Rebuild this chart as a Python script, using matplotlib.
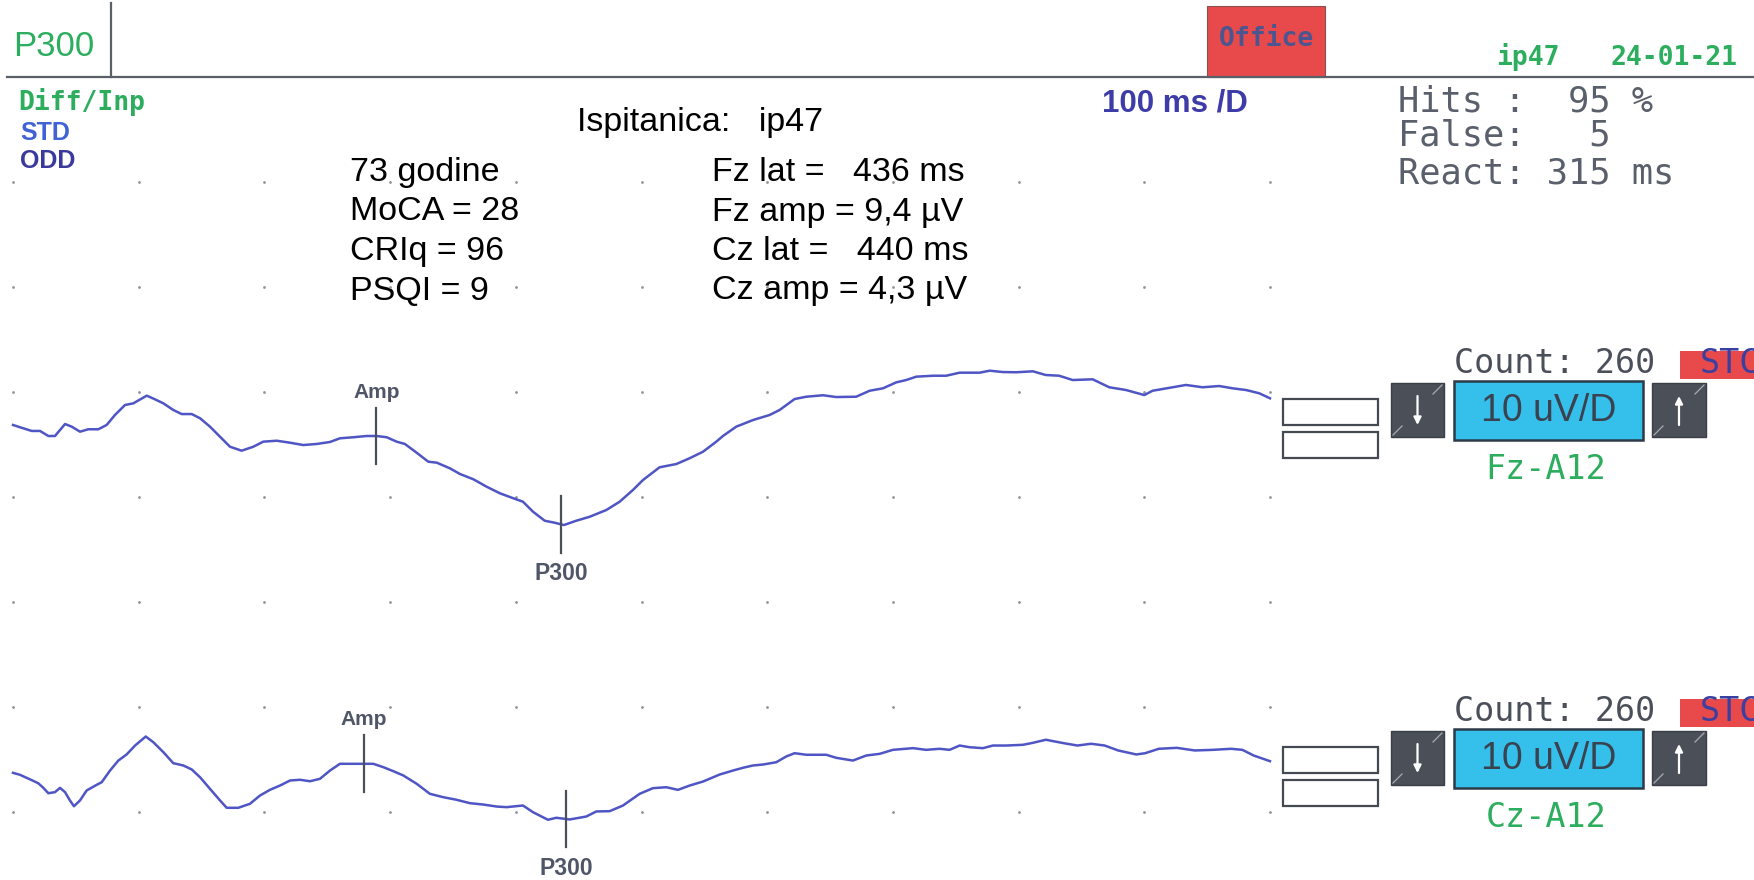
import numpy as np
import matplotlib
matplotlib.use("Agg")
import matplotlib.pyplot as plt
from matplotlib.patches import Rectangle

# ---------------------------------------------------------------------------
# Averaged ERP sweeps (time in ms after stimulus, amplitude in microvolts,
# negative-up convention as on the recording screen)
# ---------------------------------------------------------------------------
fz_ms = [0, 5.6, 14.9, 21.5, 28.1, 33.4, 41.4, 46.7, 53.3, 59.9, 67.9, 74.5, 81.1,
         89.1, 95.7, 106.4, 113.0, 119.6, 127.5, 134.2, 142.2, 148.8, 156.7, 164.7,
         172.6, 181.9, 191.2, 199.1, 209.8, 220.4, 230.9, 241.6, 252.2, 260.1, 270.7,
         281.4, 289.3, 297.3, 305.2, 311.8, 321.1, 330.4, 337.1, 347.6, 355.6, 366.2,
         376.8, 387.4, 398.0, 405.7, 413.7, 423.0, 430.9, 438.3, 448.1, 458.8, 472.0,
         482.6, 493.2, 501.2, 514.4, 527.7, 538.3, 548.9, 559.5, 564.8, 575.4, 588.7,
         601.9, 609.9, 621.8, 631.1, 644.4, 654.9, 670.8, 681.5, 692.1, 702.7, 710.6,
         718.6, 731.9, 742.4, 753.1, 769.0, 777.0, 787.5, 798.1, 811.4, 821.5, 832.3,
         843.0, 858.9, 872.1, 885.4, 893.3, 900.0, 906.6, 922.5, 933.1, 946.4, 959.6,
         970.3, 980.9, 991.4, 1000]
fz_uv = [-1.86, -1.64, -1.29, -1.29, -0.81, -0.81, -1.95, -1.70, -1.22, -1.45, -1.45,
         -1.86, -2.81, -3.76, -3.92, -4.65, -4.30, -3.92, -3.29, -2.90, -2.90, -2.50,
         -1.70, -0.74, 0.21, 0.59, 0.21, -0.27, -0.36, -0.17, 0.05, -0.05, -0.24, -0.59,
         -0.69, -0.81, -0.81, -0.69, -0.27, -0.05, 0.78, 1.64, 1.73, 2.27, 2.81, 3.31,
         4.02, 4.65, 5.12, 5.45, 6.40, 7.26, 7.45, 7.67, 7.26, 6.88, 6.24, 5.45, 4.33,
         3.38, 2.17, 1.86, 1.31, 0.69, -0.27, -0.81, -1.70, -2.33, -2.81, -3.29, -4.33,
         -4.55, -4.69, -4.52, -4.55, -5.12, -5.35, -5.92, -6.14, -6.46, -6.55, -6.55,
         -6.84, -6.84, -7.03, -6.90, -6.88, -6.97, -6.62, -6.55, -6.14, -6.21, -5.45,
         -5.19, -4.93, -4.71, -5.12, -5.45, -5.67, -5.45, -5.57, -5.35, -5.19, -4.88,
         -4.40]

cz_ms = [0, 5.6, 13.5, 20.1, 24.1, 28.1, 33.4, 37.4, 41.4, 45.3, 48.5, 53.3, 58.6,
         66.6, 70.6, 77.2, 83.8, 90.4, 97.1, 105.6, 111.6, 119.6, 127.5, 135.5, 142.2,
         148.8, 156.7, 164.7, 170.0, 179.2, 188.5, 196.5, 204.4, 212.4, 220.4, 228.3,
         236.3, 244.2, 252.2, 260.1, 270.7, 278.7, 286.6, 294.6, 302.5, 310.5, 321.1,
         331.7, 342.3, 353.0, 363.5, 374.1, 384.8, 392.7, 405.7, 413.7, 425.6, 432.2,
         442.9, 456.1, 464.0, 474.7, 485.3, 498.5, 509.1, 519.7, 529.0, 538.3, 548.9,
         562.2, 572.8, 580.7, 588.7, 596.6, 607.2, 615.2, 621.8, 631.1, 647.0, 654.9,
         668.2, 678.8, 689.5, 700.0, 716.0, 726.5, 737.2, 745.1, 753.1, 761.0, 771.6,
         779.6, 790.2, 803.5, 811.4, 821.7, 836.1, 846.9, 857.6, 868.5, 879.2, 893.6,
         900.7, 911.5, 925.9, 940.2, 954.6, 969.0, 978.0, 987.0, 1000]
cz_uv = [1.27, 1.46, 1.89, 2.26, 2.69, 3.21, 3.11, 2.70, 3.11, 3.90, 4.45, 3.90, 2.95,
         2.41, 2.16, 1.05, 0.10, -0.48, -1.33, -2.19, -1.65, -0.70, 0.35, 0.57, 0.95,
         1.69, 2.79, 3.90, 4.60, 4.60, 4.22, 3.43, 2.89, 2.48, 2.00, 1.93, 2.07, 1.84,
         1.05, 0.41, 0.41, 0.41, 0.41, 0.73, 1.11, 1.52, 2.31, 3.27, 3.59, 3.84, 4.16,
         4.29, 4.48, 4.54, 4.38, 5.02, 5.74, 5.55, 5.71, 5.43, 4.95, 4.92, 4.38, 3.27,
         2.73, 2.64, 2.89, 2.48, 2.10, 1.43, 1.05, 0.79, 0.57, 0.48, 0.26, -0.29, -0.60,
         -0.45, -0.45, -0.16, 0.10, -0.38, -0.54, -0.92, -1.08, -0.92, -1.02, -0.92,
         -1.33, -1.17, -1.08, -1.33, -1.33, -1.40, -1.59, -1.88, -1.55, -1.33, -1.50,
         -1.33, -0.86, -0.48, -0.60, -1.02, -1.11, -0.86, -0.92, -1.02, -0.92, -0.38,
         0.16]

channel_names = ["Fz-A12", "Cz-A12"]
channel_offsets_uv = [0, 30]          # stacking offset of each channel on screen
amp_latency_ms = [289, 279]           # "Amp" reference cursor
p300_latency_ms = [436, 440]          # P300 cursor
p300_amp_uv = [9.4, 4.3]
averaged_count = [260, 260]

sweep_ms = 1000
ms_per_div = 100
uv_per_div = 10
grid_rows_uv = [-25, -15, -5, 5, 15, 25, 35]

subject = "ip47"
session_date = "24-01-21"
age_years = 73
moca = 28
criq = 96
psqi = 9
hits_pct = 95
false_alarms = 5
reaction_ms = 315

# ---------------------------------------------------------------------------
SANS = "Liberation Sans"
MONO = "DejaVu Sans Mono"
GREEN = "#2dad5e"
TRACE = "#4f55c4"
CURSOR = "#4a4f5a"
DARK = "#5a606b"

W, H = 1754, 880
fig = plt.figure(figsize=(W / 100, H / 100), dpi=100)
fig.patch.set_facecolor("white")

# screen-layout layer in pixel units
scr = fig.add_axes([0, 0, 1, 1])
scr.set_xlim(0, W)
scr.set_ylim(H, 0)
scr.axis("off")

# signal layer: ms horizontally, microvolts vertically (negative up)
px_per_ms = 1257 / sweep_ms
px_per_uv = 105 / uv_per_div
x0_px, y0_px = 13, 444.5
sig = fig.add_axes([0, 0, 1, 1])
sig.patch.set_alpha(0)
sig.set_xlim(-x0_px / px_per_ms, (W - x0_px) / px_per_ms)
sig.set_ylim((H - y0_px) / px_per_uv, -y0_px / px_per_uv)
sig.axis("off")

# division dots
gx, gy = np.meshgrid(np.arange(0, sweep_ms + 1, ms_per_div), grid_rows_uv)
sig.plot(gx.ravel(), gy.ravel(), ls="none", marker="o", ms=2.0,
         color="#8f949b", mec="none")

traces = [(fz_ms, fz_uv), (cz_ms, cz_uv)]
for (t, v), off, a_lat, p_lat in zip(traces, channel_offsets_uv,
                                     amp_latency_ms, p300_latency_ms):
    v = np.asarray(v) + off
    sig.plot(t, v, color=TRACE, lw=1.8, solid_joinstyle="round")
    half = 2.7
    a_val = np.interp(a_lat, t, v)
    p_val = np.interp(p_lat, t, v)
    sig.plot([a_lat, a_lat], [a_val - half, a_val + half], color=CURSOR, lw=1.6)
    sig.plot([p_lat, p_lat], [p_val - half, p_val + half], color=CURSOR, lw=1.6)
    sig.text(a_lat, a_val - half - 0.95, "Amp", ha="center", va="baseline",
             family=SANS, fontweight="bold", fontsize=15, color="#4f5667")
    sig.text(p_lat, p_val + half + 0.9, "P300", ha="center", va="top",
             family=SANS, fontweight="bold", fontsize=16.5, color="#4f5667")

# ---- header bar ------------------------------------------------------------
scr.plot([7, W], [77, 77], color="#5b6068", lw=1.6)
scr.plot([111, 111], [3, 77], color="#5b6068", lw=1.6)
scr.text(13, 56, "P300", family=SANS, fontsize=25, color=GREEN, va="baseline")
scr.add_patch(Rectangle((1207, 6), 118, 71, facecolor="#e8494b",
                        edgecolor="#8a5050", lw=0.8))
scr.text(1266, 46, "Office", ha="center", va="baseline", family=MONO,
         fontweight="bold", fontsize=19, color="#4b5690")
scr.text(1496, 65, subject, family=MONO, fontweight="bold", fontsize=19,
         color=GREEN, va="baseline")
scr.text(1611, 65, session_date, family=MONO, fontweight="bold", fontsize=19,
         color=GREEN, va="baseline")

# ---- left legend -------------------------------------------------------------
scr.text(18, 110, "Diff/Inp", family=MONO, fontweight="bold", fontsize=19,
         color=GREEN, va="baseline")
scr.text(20, 140, "STD", family=SANS, fontweight="bold", fontsize=18,
         color="#3f62d4", va="baseline")
scr.text(20, 168, "ODD", family=SANS, fontweight="bold", fontsize=18,
         color="#3a3a9e", va="baseline")
scr.text(1102, 112, "100 ms /D", family=SANS, fontweight="bold", fontsize=22.5,
         color="#3d3ca8", va="baseline")

# ---- behavioural summary ---------------------------------------------------
beh = [f"Hits :  {hits_pct} %", f"False:   {false_alarms}",
       f"React: {reaction_ms} ms"]
for line, base in zip(beh, [111, 146, 184]):
    scr.text(1398, base, line, family=MONO, fontsize=25.5, color=DARK,
             va="baseline")

# ---- subject annotation ----------------------------------------------------
scr.text(577, 131, f"Ispitanica:   {subject}", family=SANS, fontsize=24.5,
         color="black", va="baseline")
left_lines = [f"{age_years} godine", f"MoCA = {moca}", f"CRIq = {criq}",
              f"PSQI = {psqi}"]
right_lines = [f"Fz lat =   {p300_latency_ms[0]} ms",
               f"Fz amp = {p300_amp_uv[0]:.1f} µV".replace(".", ","),
               f"Cz lat =   {p300_latency_ms[1]} ms",
               f"Cz amp = {p300_amp_uv[1]:.1f} µV".replace(".", ",")]
for i, (lt, rt) in enumerate(zip(left_lines, right_lines)):
    base = 181 + 39.5 * i
    scr.text(350, base, lt, family=SANS, fontsize=24.5, color="black",
             va="baseline")
    scr.text(712, base, rt, family=SANS, fontsize=24.5, color="black",
             va="baseline")


# ---- per-channel control panels ------------------------------------------
def button(x, y, w, h, up):
    scr.add_patch(Rectangle((x, y), w, h, facecolor="#4b4f58",
                            edgecolor="#3a3e46", lw=1))
    scr.plot([x + 2, x + 11], [y + h - 2, y + h - 11], color="#a9adb3", lw=0.9)
    scr.plot([x + w - 11, x + w - 2], [y + 11, y + 2], color="#a9adb3", lw=0.9)
    cx = x + w / 2
    a, b = (y + h - 12, y + 13) if up else (y + 13, y + h - 12)
    scr.annotate("", xy=(cx, b), xytext=(cx, a),
                 arrowprops=dict(arrowstyle="-|>", color="white", lw=1.6,
                                 mutation_scale=11, shrinkA=0, shrinkB=0))


for name, cnt, top in zip(channel_names, averaged_count, [381, 729]):
    for dy in (18, 51):
        scr.add_patch(Rectangle((1283, top + dy), 95, 26, facecolor="white",
                                edgecolor="#454a52", lw=1.6))
    button(1391, top + 2, 53, 54, up=False)
    button(1652, top + 2, 54, 54, up=True)
    scr.add_patch(Rectangle((1454, top), 189, 59, facecolor="#35c0ec",
                            edgecolor="#2d3a48", lw=1.8))
    scr.text(1548.5, top + 30, f"{uv_per_div} uV/D", ha="center", va="center",
             family=SANS, fontsize=27, color="#3a4250")
    scr.text(1454, top - 8, f"Count: {cnt}", family=MONO, fontsize=24,
             color="#4a4f5a", va="baseline")
    # red status tab running off the right edge of the screen
    tab = Rectangle((1680, top - 30), 90, 28, facecolor="#e8494b",
                    edgecolor="none")
    scr.add_patch(tab)
    scr.text(1700, top - 8, "STC", family=MONO, fontsize=24, color="#3b40a0",
             va="baseline", clip_on=True)
    scr.text(1546, top + 98, name, ha="center", family=MONO, fontsize=24,
             color=GREEN, va="baseline")

fig.savefig("out.png", dpi=100, facecolor="white")
